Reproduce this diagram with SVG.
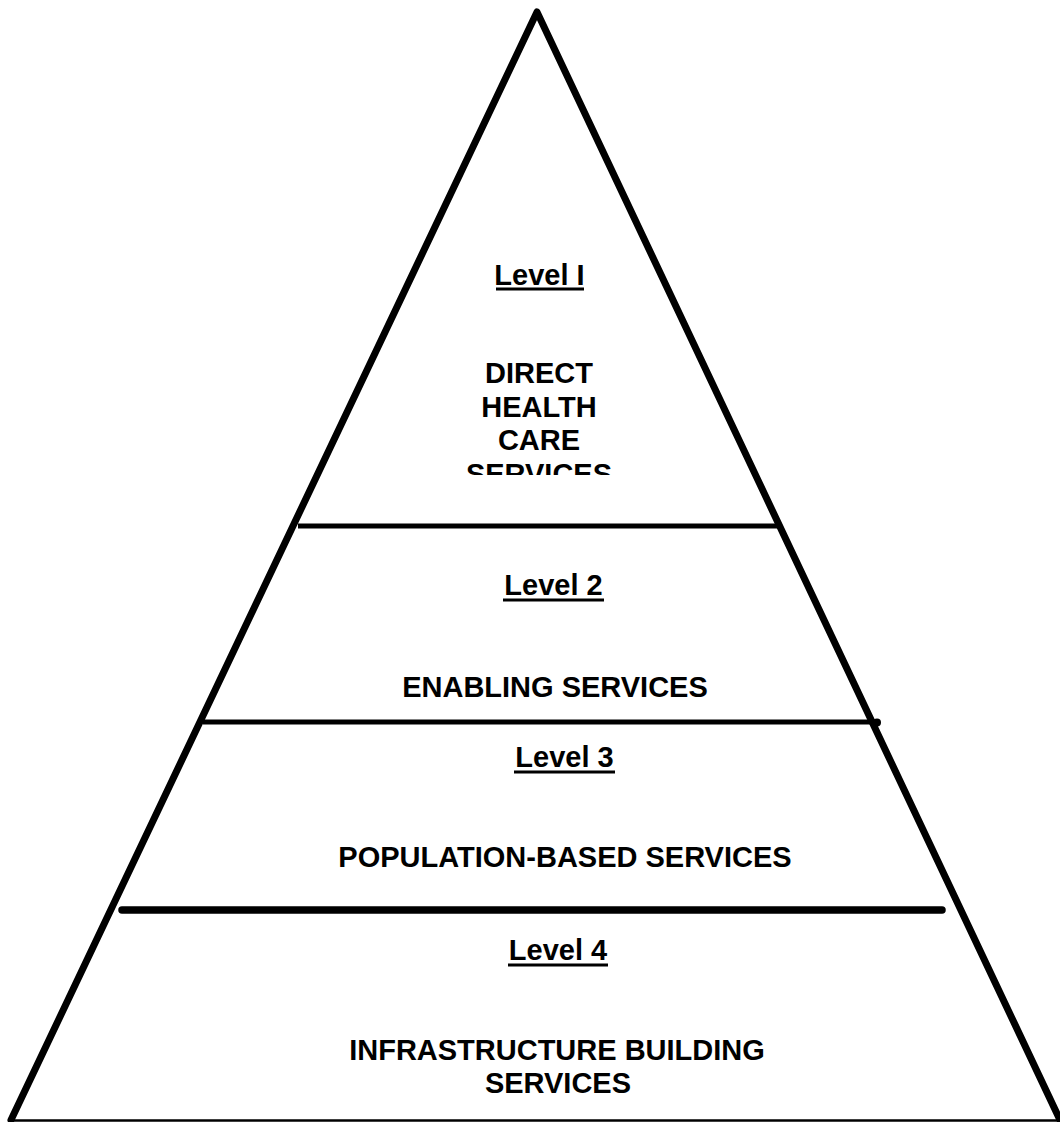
<svg xmlns="http://www.w3.org/2000/svg" width="1060" height="1122" viewBox="0 0 1060 1122">
<style>
.t{font-family:"Liberation Sans",Arial,sans-serif;font-weight:bold;font-size:29px;fill:#000;text-anchor:middle}
.edge{fill:none;stroke:#000;stroke-width:7;stroke-linejoin:round;stroke-linecap:round}
.div{stroke:#000;stroke-width:5;stroke-linecap:butt}
.ul{fill:#000}
</style>
<defs>
<clipPath id="c1"><rect x="400" y="340" width="280" height="135"/></clipPath>
</defs>
<rect width="1060" height="1122" fill="#fff"/>
<g id="pyramid">
<polyline class="edge" points="11,1120 537,12 1060,1120"/>
<line x1="12" y1="1120.5" x2="1060" y2="1120.5" stroke="#000" stroke-width="2.5"/>
</g>
<g id="dividers">
<line class="div" x1="298" y1="526" x2="778" y2="526"/>
<line class="div" x1="203" y1="722" x2="877" y2="722"/>
<circle cx="877" cy="722.5" r="4"/>
<line x1="122" y1="910" x2="942" y2="910" stroke="#000" stroke-width="7.5" stroke-linecap="round"/>
</g>
<g id="level1">
<text class="t" x="539.5" y="285">Level I</text>
<rect class="ul" x="496" y="287.5" width="88" height="3"/>
<g clip-path="url(#c1)">
<text class="t" x="539" y="383">DIRECT</text>
<text class="t" x="539" y="417">HEALTH</text>
<text class="t" x="539" y="450">CARE</text>
<text class="t" x="539" y="484">SERVICES</text>
</g>
</g>
<g id="level2">
<text class="t" x="553.5" y="595">Level 2</text>
<rect class="ul" x="503" y="598.5" width="101" height="3"/>
<text class="t" x="555" y="697">ENABLING SERVICES</text>
</g>
<g id="level3">
<text class="t" x="564.5" y="767">Level 3</text>
<rect class="ul" x="514" y="770.5" width="101" height="3"/>
<text class="t" x="565" y="867">POPULATION-BASED SERVICES</text>
</g>
<g id="level4">
<text class="t" x="558" y="960">Level 4</text>
<rect class="ul" x="508" y="963.5" width="100" height="3"/>
<text class="t" x="557" y="1060">INFRASTRUCTURE BUILDING</text>
<text class="t" x="558" y="1093">SERVICES</text>
</g>
</svg>
